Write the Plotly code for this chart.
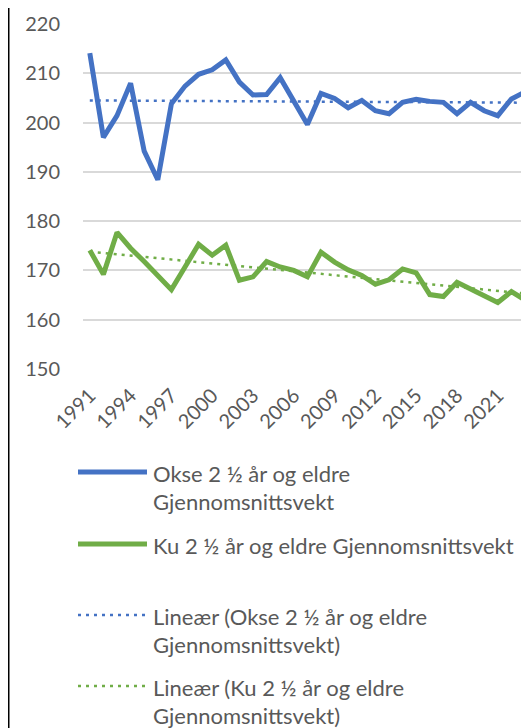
import numpy as np
import plotly.graph_objects as go

years = list(range(1991, 2024))
okse = [214.1, 197.0, 201.4, 208.0, 194.2, 188.4, 203.8, 207.4, 209.8, 210.7,
        212.7, 208.2, 205.6, 205.7, 209.1, 204.5, 199.6, 205.9, 204.9, 203.0,
        204.5, 202.4, 201.8, 204.1, 204.7, 204.3, 204.1, 201.8, 204.1, 202.4,
        201.4, 204.8, 206.2]
ku = [174.1, 169.2, 177.7, 174.5, 171.8, 168.8, 166.1, 170.7, 175.3, 173.1,
      175.1, 168.0, 168.7, 171.8, 170.7, 170.0, 168.7, 173.7, 171.7, 170.1,
      169.0, 167.2, 168.1, 170.3, 169.5, 165.1, 164.7, 167.6, 166.3, 164.9,
      163.5, 165.7, 164.0]
x_ticks = list(range(1991, 2022, 3))
y_ticks = [150, 160, 170, 180, 190, 200, 210, 220]

name_okse = "Okse 2 ½ år og eldre Gjennomsnittsvekt"
name_ku = "Ku 2 ½ år og eldre Gjennomsnittsvekt"

BLUE = "#4472C4"
GREEN = "#70AD47"
GRAY = "#595959"
FONT = "Lato"
FS = 20
LFS = 22

yrs = np.array(years, dtype=float)
fit_o = np.polyval(np.polyfit(yrs, okse, 1), yrs)
fit_k = np.polyval(np.polyfit(yrs, ku, 1), yrs)

fig = go.Figure()
fig.add_trace(go.Scatter(x=years, y=okse, mode="lines", name=name_okse,
                         line=dict(color=BLUE, width=5)))
fig.add_trace(go.Scatter(x=years, y=ku, mode="lines", name=name_ku,
                         line=dict(color=GREEN, width=5)))
fig.add_trace(go.Scatter(x=years, y=fit_o, mode="lines", name="Lineær (" + name_okse + ")",
                         line=dict(color=BLUE, width=2.5, dash="3px,5px")))
fig.add_trace(go.Scatter(x=years, y=fit_k, mode="lines", name="Lineær (" + name_ku + ")",
                         line=dict(color=GREEN, width=2.5, dash="3px,5px")))

# page body has an 8px margin; work in screen pixels and shift
OFF = 8
W, H = 529 - OFF, 728 - OFF
L, R, T, B = 83 - OFF, 529 - OFF, 24 - OFF, 369 - OFF


def px(x):
    return (x - OFF - L) / (R - L)


def py(y):
    return (B - (y - OFF)) / (B - T)


shapes = []
annotations = []
# left chart border
shapes.append(dict(type="line", xref="paper", yref="paper", x0=px(8.5), x1=px(8.5),
                   y0=py(740), y1=py(0), line=dict(color="#000000", width=2)))

legend_items = [
    (BLUE, 5, "solid", 472, ["Okse 2 ½ år og eldre", "Gjennomsnittsvekt"]),
    (GREEN, 5, "solid", 544, ["Ku 2 ½ år og eldre Gjennomsnittsvekt"]),
    (BLUE, 2.5, "3px,5px", 615, ["Lineær (Okse 2 ½ år og eldre", "Gjennomsnittsvekt)"]),
    (GREEN, 2.5, "3px,5px", 686, ["Lineær (Ku 2 ½ år og eldre", "Gjennomsnittsvekt)"]),
]
for color, w, dash, yy, lines in legend_items:
    shapes.append(dict(type="line", xref="paper", yref="paper", x0=px(78), x1=px(147),
                       y0=py(yy), y1=py(yy), line=dict(color=color, width=w, dash=dash)))
    for i, txt in enumerate(lines):
        annotations.append(dict(xref="paper", yref="paper", x=px(151), y=py(yy + 1 + 28 * i),
                                xanchor="left", yanchor="middle", showarrow=False,
                                text=txt, font=dict(family=FONT, size=LFS, color=GRAY)))

fig.update_layout(
    width=W, height=H,
    margin=dict(l=L, r=W - R, t=T, b=H - B, pad=0),
    paper_bgcolor="white", plot_bgcolor="white",
    showlegend=False,
    font=dict(family=FONT, size=FS, color=GRAY),
    xaxis=dict(range=[1990.5, 1990.5 + (R - L) / 13.6], tickvals=x_ticks,
               ticktext=[str(v) for v in x_ticks], tickangle=-45, showgrid=False,
               zeroline=False, showline=False, ticks="", ticklabelstandoff=10,
               tickfont=dict(family=FONT, size=FS, color=GRAY)),
    yaxis=dict(range=[150, 220], tickvals=y_ticks, showgrid=True, gridcolor="#D9D9D9",
               gridwidth=1.5, zeroline=False, showline=False, ticks="",
               ticklabelstandoff=22, tickfont=dict(family=FONT, size=FS, color=GRAY)),
    shapes=shapes, annotations=annotations,
)

fig.write_html("out.html")
